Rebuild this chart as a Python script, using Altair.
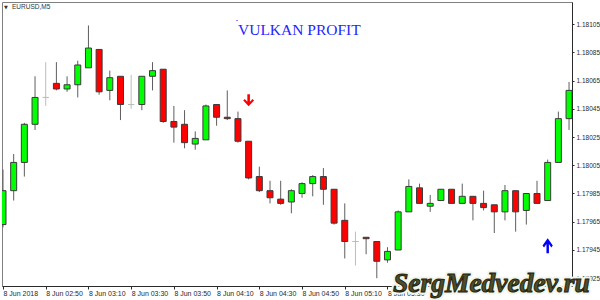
import altair as alt
import numpy as np
import pandas as pd

# ---- chart data -------------------------------------------------------------
symbol_label = "EURUSD,M5"
title_text = "VULKAN PROFIT"
watermark_text = "SergMedvedev.ru"

times = [
    "02:30", "02:35", "02:40", "02:45", "02:50", "02:55",
    "03:00", "03:05", "03:10", "03:15", "03:20", "03:25",
    "03:30", "03:35", "03:40", "03:45", "03:50", "03:55",
    "04:00", "04:05", "04:10", "04:15", "04:20", "04:25",
    "04:30", "04:35", "04:40", "04:45", "04:50", "04:55",
    "05:00", "05:05", "05:10", "05:15", "05:20", "05:25",
    "05:30", "05:35", "05:40", "05:45", "05:50", "05:55",
    "06:00", "06:05", "06:10", "06:15", "06:20", "06:25",
    "06:30", "06:35", "06:40", "06:45", "06:50", "06:55",
]

opens = [
    1.17963, 1.17987, 1.18007, 1.18034, 1.18053, 1.18063,
    1.18059, 1.18062, 1.18074, 1.18087, 1.18058, 1.18068,
    1.18048, 1.18048, 1.18068, 1.18073, 1.18036, 1.18034,
    1.18020, 1.18023, 1.18048, 1.18039, 1.18038, 1.18022,
    1.17997, 1.17987, 1.17981, 1.17979, 1.17985, 1.17992,
    1.17997, 1.17988, 1.17966, 1.17951, 1.17954, 1.17951,
    1.17938, 1.17945, 1.17972, 1.17989, 1.17976, 1.17980,
    1.17988, 1.17978, 1.17983, 1.17978, 1.17977, 1.17972,
    1.17987, 1.17973, 1.17985, 1.17980, 1.18007, 1.18038,
]

highs = [
    1.18002, 1.18013, 1.18035, 1.18068, 1.18078, 1.18078,
    1.18068, 1.18079, 1.18104, 1.18087, 1.18072, 1.18068,
    1.18069, 1.18068, 1.18078, 1.18073, 1.18047, 1.18044,
    1.18029, 1.18048, 1.18048, 1.18058, 1.18043, 1.18022,
    1.18004, 1.17994, 1.17994, 1.17988, 1.17993, 1.17998,
    1.18003, 1.17988, 1.17978, 1.17958, 1.17954, 1.17951,
    1.17947, 1.17973, 1.17995, 1.17992, 1.17984, 1.17988,
    1.17988, 1.17992, 1.17983, 1.17987, 1.17977, 1.17991,
    1.17987, 1.17985, 1.17994, 1.18009, 1.18043, 1.18064,
]

lows = [
    1.17961, 1.17980, 1.17997, 1.18030, 1.18047, 1.18058,
    1.18057, 1.18053, 1.18074, 1.18055, 1.18051, 1.18037,
    1.18045, 1.18044, 1.18058, 1.18035, 1.18021, 1.18017,
    1.18016, 1.18023, 1.18033, 1.18037, 1.18021, 1.17995,
    1.17986, 1.17978, 1.17977, 1.17971, 1.17982, 1.17983,
    1.17977, 1.17963, 1.17939, 1.17934, 1.17942, 1.17925,
    1.17936, 1.17945, 1.17972, 1.17978, 1.17972, 1.17980,
    1.17978, 1.17978, 1.17966, 1.17973, 1.17957, 1.17966,
    1.17958, 1.17963, 1.17978, 1.17980, 1.18007, 1.18030,
]

closes = [
    1.17987, 1.18007, 1.18034, 1.18053, 1.18053, 1.18059,
    1.18062, 1.18076, 1.18088, 1.18057, 1.18067, 1.18048,
    1.18048, 1.18068, 1.18072, 1.18036, 1.18032, 1.18021,
    1.18024, 1.18047, 1.18039, 1.18038, 1.18022, 1.17996,
    1.17987, 1.17982, 1.17978, 1.17987, 1.17992, 1.17997,
    1.17988, 1.17964, 1.17951, 1.17951, 1.17953, 1.17937,
    1.17944, 1.17972, 1.17990, 1.17978, 1.17978, 1.17988,
    1.17978, 1.17983, 1.17978, 1.17975, 1.17972, 1.17987,
    1.17972, 1.17985, 1.17978, 1.18007, 1.18038, 1.18058,
]

# signal arrows (indicator output)
signal_times = ["04:25", "06:45"]
signal_prices = [1.18051, 1.17948]
signal_kinds = ["sell", "buy"]

# axis ticks
price_ticks = [1.17925, 1.17945, 1.17965, 1.17985, 1.18005,
               1.18025, 1.18045, 1.18065, 1.18085, 1.18105]
time_ticks = ["02:30", "02:50", "03:10", "03:30", "03:50", "04:10",
              "04:30", "04:50", "05:10", "05:30"]

# visible window of the chart
x_start = "02:29:32"
x_end = "06:56:23"
y_min, y_max = 1.179195, 1.181206

# ---- tables -----------------------------------------------------------------
def iso(hhmm):
    return f"2018-06-08T{hhmm}:00Z"


def dt(hhmmss):
    parts = [int(p) for p in hhmmss.split(":")] + [0]
    return alt.DateTime(year=2018, month=6, date=8, hours=parts[0],
                        minutes=parts[1], seconds=parts[2], utc=True)


bars = pd.DataFrame({
    "t": [iso(t) for t in times],
    "open": opens, "high": highs, "low": lows, "close": closes,
})
bars["kind"] = np.where(bars["close"] > bars["open"], "up",
                        np.where(bars["close"] < bars["open"], "down", "doji"))

signals = pd.DataFrame({
    "t": [iso(t) for t in signal_times],
    "price": signal_prices,
    "kind": signal_kinds,
})

# ---- scales & axes ----------------------------------------------------------
x_scale = alt.Scale(type="utc", domain=[dt(x_start), dt(x_end)], padding=0)
y_scale = alt.Scale(domain=[y_min, y_max], nice=False, zero=False, padding=0)

AXIS_INK = "#2a2a2a"
x_axis = alt.Axis(
    values=[dt(t) for t in time_ticks],
    labelExpr="utcFormat(datum.value, '%H:%M') == '02:30' ? '8 Jun 2018' : "
              "'8 Jun ' + utcFormat(datum.value, '%H:%M')",
    labelAlign="left", labelBaseline="top", labelPadding=0,
    labelFont="Liberation Sans", labelFontSize=7, labelColor=AXIS_INK,
    labelOverlap=False, labelBound=False, labelFlush=False,
    tickSize=3, tickColor=AXIS_INK, domainColor=AXIS_INK,
    grid=False, title=None,
)
y_axis = alt.Axis(
    orient="right", values=price_ticks, format=".5f",
    labelFont="Liberation Sans", labelFontSize=6.5, labelColor=AXIS_INK,
    labelPadding=2, labelOverlap=False, labelBound=False, labelFlush=False,
    labelSeparation=0, tickSize=2, tickColor=AXIS_INK, domainColor=AXIS_INK,
    grid=False, title=None,
)

kinds = ["up", "down", "doji"]

# ---- candles ----------------------------------------------------------------
base = alt.Chart(bars)

wicks = base.mark_rule(strokeWidth=1, clip=True).encode(
    x=alt.X("t:T", scale=x_scale, axis=x_axis),
    y=alt.Y("low:Q", scale=y_scale, axis=y_axis),
    y2="high:Q",
    stroke=alt.Stroke("kind:N", legend=None,
                      scale=alt.Scale(domain=kinds,
                                      range=["#5e5e5e", "#5e5e5e", "#b8bfb8"])),
)

bodies = base.mark_bar(size=6, strokeWidth=1, clip=True).encode(
    x=alt.X("t:T", scale=x_scale, axis=x_axis),
    y=alt.Y("open:Q", scale=y_scale, axis=y_axis),
    y2="close:Q",
    fill=alt.Fill("kind:N", legend=None,
                  scale=alt.Scale(domain=kinds,
                                  range=["#00ff00", "#ff0000", "#ffffff"])),
    stroke=alt.Stroke("kind:N", legend=None,
                      scale=alt.Scale(domain=kinds,
                                      range=["#3a3a3a", "#3a3a3a", "#b8bfb8"])),
)


# ---- signal arrows ----------------------------------------------------------
def arrow_path(half_w, down=True):
    s = 1 if down else -1
    pts = [(-0.24 * half_w, -1), (0.24 * half_w, -1), (0.24 * half_w, 0.25),
           (0.72 * half_w, -0.22), (half_w, 0.05), (0, 1), (-half_w, 0.05),
           (-0.72 * half_w, -0.22), (-0.24 * half_w, 0.25)]
    return "M" + " L".join(f"{x:.3f},{s * y:.3f}" for x, y in pts) + " Z"


sell_arrow = alt.Chart(signals).transform_filter(
    alt.datum.kind == "sell"
).mark_point(shape=arrow_path(0.9, down=True), filled=True, size=144,
             color="#ff0000", opacity=1).encode(
    x=alt.X("t:T", scale=x_scale, axis=x_axis),
    y=alt.Y("price:Q", scale=y_scale, axis=y_axis))

buy_arrow = alt.Chart(signals).transform_filter(
    alt.datum.kind == "buy"
).mark_point(shape=arrow_path(0.68, down=False), filled=True, size=225,
             color="#0000ff", opacity=1).encode(
    x=alt.X("t:T", scale=x_scale, axis=x_axis),
    y=alt.Y("price:Q", scale=y_scale, axis=y_axis))

# ---- text objects -----------------------------------------------------------
labels = pd.DataFrame({"symbol": [symbol_label], "title": [title_text],
                       "mark": ["▼"], "anchor": ["•"], "wm": [watermark_text]})
lab = alt.Chart(labels)

symbol_tri = lab.mark_text(align="left", baseline="middle", fontSize=5,
                           font="DejaVu Sans", color="#333333").encode(
    text="mark:N", x=alt.value(2), y=alt.value(4.5))
symbol_txt = lab.mark_text(align="left", baseline="middle", fontSize=6.5,
                           font="Liberation Sans", color="#333333").encode(
    text="symbol:N", x=alt.value(10), y=alt.value(5))

title_dot = lab.mark_text(align="center", baseline="middle", fontSize=4,
                          font="DejaVu Sans", color="#2020ff").encode(
    text="anchor:N", x=alt.value(235), y=alt.value(19))
title_txt = lab.mark_text(align="left", baseline="alphabetic", fontSize=15.5,
                          font="Liberation Serif", color="#2525ff").encode(
    text="title:N", x=alt.value(236), y=alt.value(33))

wm_glow = lab.mark_text(align="left", baseline="alphabetic", fontSize=27.5,
                        font="Liberation Serif", fontStyle="italic",
                        fontWeight="bold", fill="#f2f6ea", stroke="#f2f6ea",
                        strokeWidth=5, strokeJoin="round").encode(
    text="wm:N", x=alt.value(391), y=alt.value(290))
wm_text = lab.mark_text(align="left", baseline="alphabetic", fontSize=27.5,
                        font="Liberation Serif", fontStyle="italic",
                        fontWeight="bold", fill="#4e4e2c", stroke="#23230f",
                        strokeWidth=1).encode(
    text="wm:N", x=alt.value(391), y=alt.value(290))

chart = alt.layer(
    wicks, bodies, sell_arrow, buy_arrow,
    symbol_tri, symbol_txt, title_dot, title_txt, wm_glow, wm_text,
).resolve_scale(
    stroke="independent", fill="independent"
).properties(
    width=570, height=284,
    padding={"left": 2, "top": 2, "right": 28, "bottom": 14},
    autosize=alt.AutoSizeParams(type="none"),
    background="#ffffff",
).configure_axis(
    labelOverlap=False
).configure_view(
    stroke="#808080", strokeWidth=1, fill="#ffffff"
)

chart.save("out.html", embed_options={"renderer": "svg", "actions": False})
